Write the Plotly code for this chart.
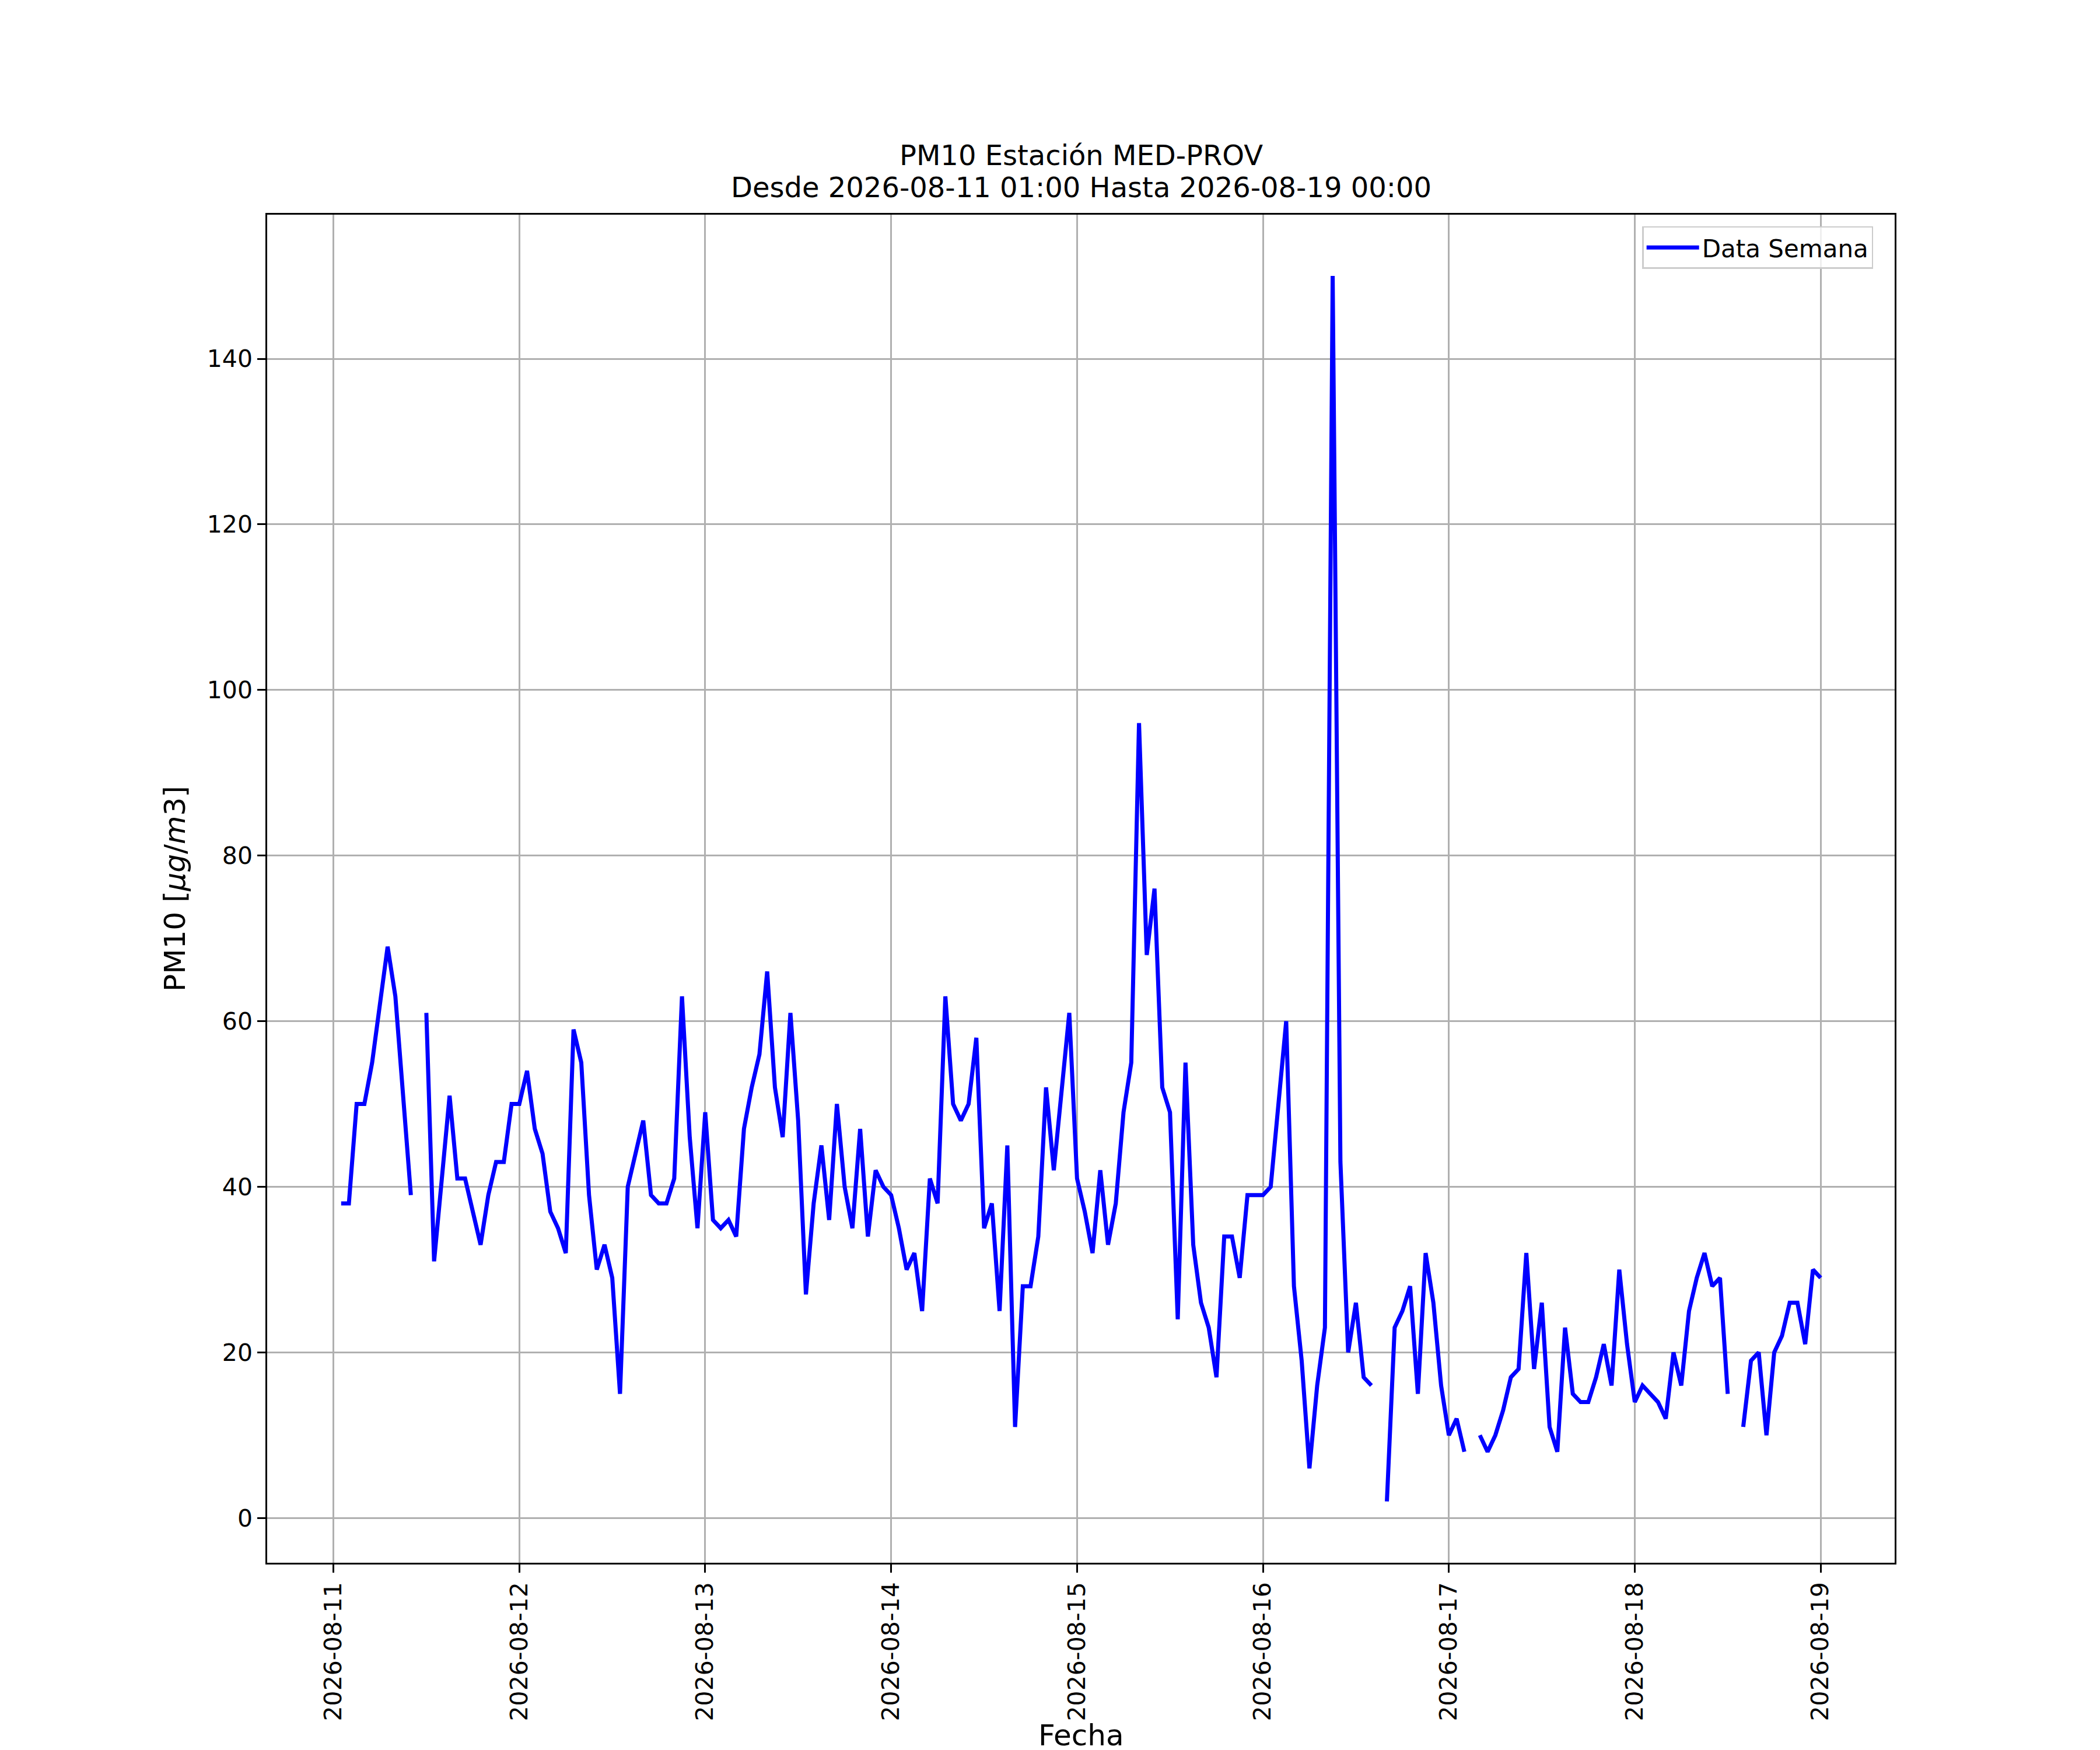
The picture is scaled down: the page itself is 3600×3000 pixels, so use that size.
import pandas as pd
import plotly.graph_objects as go

# hourly PM10 values, 2026-08-11 01:00 -> 2026-08-19 00:00 (None = missing hour)
start = "2026-08-11 01:00"
end = "2026-08-19 00:00"

pm10 = [
    38, 38, 50, 50, 55, 62, 69, 63, 51, 39, None, 61,
    31, 41, 51, 41, 41, 37, 33, 39, 43, 43, 50, 50,
    54, 47, 44, 37, 35, 32, 59, 55, 39, 30, 33, 29,
    15, 40, 44, 48, 39, 38, 38, 41, 63, 46, 35, 49,
    36, 35, 36, 34, 47, 52, 56, 66, 52, 46, 61, 48,
    27, 38, 45, 36, 50, 40, 35, 47, 34, 42, 40, 39,
    35, 30, 32, 25, 41, 38, 63, 50, 48, 50, 58, 35,
    38, 25, 45, 11, 28, 28, 34, 52, 42, 51, 61, 41,
    37, 32, 42, 33, 38, 49, 55, 96, 68, 76, 52, 49,
    24, 55, 33, 26, 23, 17, 34, 34, 29, 39, 39, 39,
    40, 50, 60, 28, 19, 6, 16, 23, 150, 43, 20, 26,
    17, 16, None, 2, 23, 25, 28, 15, 32, 26, 16, 10,
    12, 8, None, 10, 8, 10, 13, 17, 18, 32, 18, 26,
    11, 8, 23, 15, 14, 14, 17, 21, 16, 30, 21, 14,
    16, 15, 14, 12, 20, 16, 25, 29, 32, 28, 29, 15,
    None, 11, 19, 20, 10, 20, 22, 26, 26, 21, 30, 29,
]
fechas = pd.date_range(start, end, freq="h")

day_ticks = pd.date_range("2026-08-11", "2026-08-19", freq="D")
y_ticks = [0, 20, 40, 60, 80, 100, 120, 140]

# axis limits like matplotlib's 5% autoscale margin
span = fechas[-1] - fechas[0]
x_range = [fechas[0] - span * 0.05, fechas[-1] + span * 0.05]
vals = [v for v in pm10 if v is not None]
dy = (max(vals) - min(vals)) * 0.05
y_range = [min(vals) - dy, max(vals) + dy]

font = "DejaVu Sans"

fig = go.Figure()
fig.add_trace(go.Scatter(
    x=fechas, y=pm10, mode="lines", name="Data Semana",
    line=dict(color="#0000ff", width=7),
    connectgaps=False,
))

fig.update_layout(
    width=3600, height=3000,
    margin=dict(l=450, r=360, t=360, b=329),
    paper_bgcolor="white", plot_bgcolor="white",
    font=dict(family=font, size=41, color="black"),
    showlegend=True,
    legend=dict(
        x=0.9868, y=0.9914, xanchor="right", yanchor="top",
        bgcolor="rgba(255,255,255,0.8)", bordercolor="#cccccc", borderwidth=2.5,
        font=dict(size=42), itemwidth=90,
    ),
)

fig.update_xaxes(
    range=x_range, tickvals=day_ticks, tickformat="%Y-%m-%d", tickangle=-90,
    showgrid=True, gridcolor="#b0b0b0", gridwidth=2.5,
    showline=True, linecolor="black", linewidth=2.6, mirror=True,
    ticks="outside", ticklen=14, tickwidth=2.5, tickcolor="black",
    zeroline=False,
)
fig.update_yaxes(
    range=y_range, tickvals=y_ticks,
    showgrid=True, gridcolor="#b0b0b0", gridwidth=2.5,
    showline=True, linecolor="black", linewidth=2.6, mirror=True,
    ticks="outside", ticklen=14, tickwidth=2.5, tickcolor="black",
    zeroline=False,
    title=dict(text="PM10 [<i>μg</i>/<i>m</i>3]", font=dict(size=50), standoff=22),
)

# x label placed by hand so it sits just above the bottom edge
fig.add_annotation(
    text="Fecha", xref="paper", yref="paper",
    x=0.5, y=0, yshift=-296, xanchor="center", yanchor="middle",
    showarrow=False, font=dict(size=50),
)

fig.add_annotation(
    text="PM10 Estación MED-PROV", xref="paper", yref="paper",
    x=0.5, y=1, yshift=(360 - 258), xanchor="center", yanchor="middle",
    showarrow=False, font=dict(size=48),
)
fig.add_annotation(
    text="Desde 2026-08-11 01:00 Hasta 2026-08-19 00:00", xref="paper", yref="paper",
    x=0.5, y=1, yshift=(360 - 313), xanchor="center", yanchor="middle",
    showarrow=False, font=dict(size=48),
)

fig.write_html("out.html")
